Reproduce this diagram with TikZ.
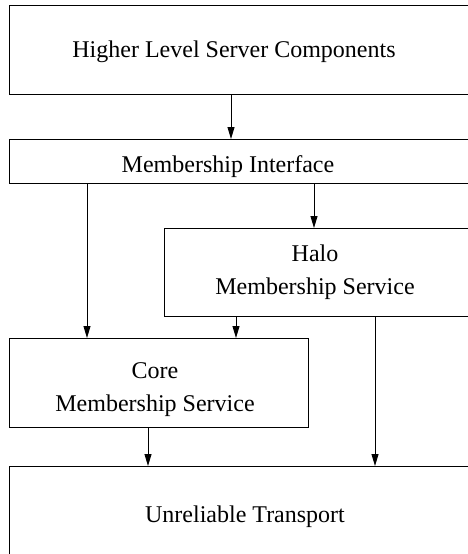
\documentclass[tikz,border=0pt]{standalone}
\usepackage{fontspec}
\setmainfont{Liberation Serif}
\usetikzlibrary{arrows.meta}
\begin{document}
\begin{tikzpicture}[x=1pt,y=-1pt,
  box/.style={draw, line width=0.9pt, inner sep=0pt, anchor=north west},
  lbl/.style={font=\fontsize{24}{33}\selectfont, align=center, inner sep=0pt, anchor=base},
  link/.style={-{Triangle[length=12pt,width=7pt]}, line width=0.9pt}]
\useasboundingbox (0,0) rectangle (468,554);
\clip (0,0) rectangle (468,554);

% layer boxes (the wide ones run past the right edge)
\node[box, minimum width=465pt, minimum height=89pt] (hi) at (9,5) {};
\node[box, minimum width=465pt, minimum height=44pt] (mi) at (9,139) {};
\node[box, minimum width=310pt, minimum height=88pt] (halo) at (164,228) {};
\node[box, minimum width=299pt, minimum height=89pt] (core) at (9,338) {};
\node[box, minimum width=465pt, minimum height=100pt] (ut) at (9,466) {};

% labels (anchored at the baseline of their last line)
\node[lbl] (hit) at (234,57) {Higher Level Server Components};
\node[lbl] (mit) at (228,172) {Membership Interface};
\node[lbl] (halot) at (315,294) {Halo\\Membership Service};
\node[lbl] (coret) at (155,411) {Core\\Membership Service};
\node[lbl] (utt) at (245,522) {Unreliable Transport};

% connector columns
\coordinate (c1) at (231,0);
\coordinate (c2) at (314,0);
\coordinate (c3) at (87,0);
\coordinate (c4) at (236,0);
\coordinate (c5) at (375,0);
\coordinate (c6) at (148,0);

\draw[link] (hi.south -| c1) -- (mi.north -| c1);
\draw[link] (mi.south -| c2) -- (halo.north -| c2);
\draw[link] (mi.south -| c3) -- (core.north -| c3);
\draw[link] (halo.south -| c4) -- (core.north -| c4);
\draw[link] (halo.south -| c5) -- (ut.north -| c5);
\draw[link] (core.south -| c6) -- (ut.north -| c6);
\end{tikzpicture}
\end{document}
